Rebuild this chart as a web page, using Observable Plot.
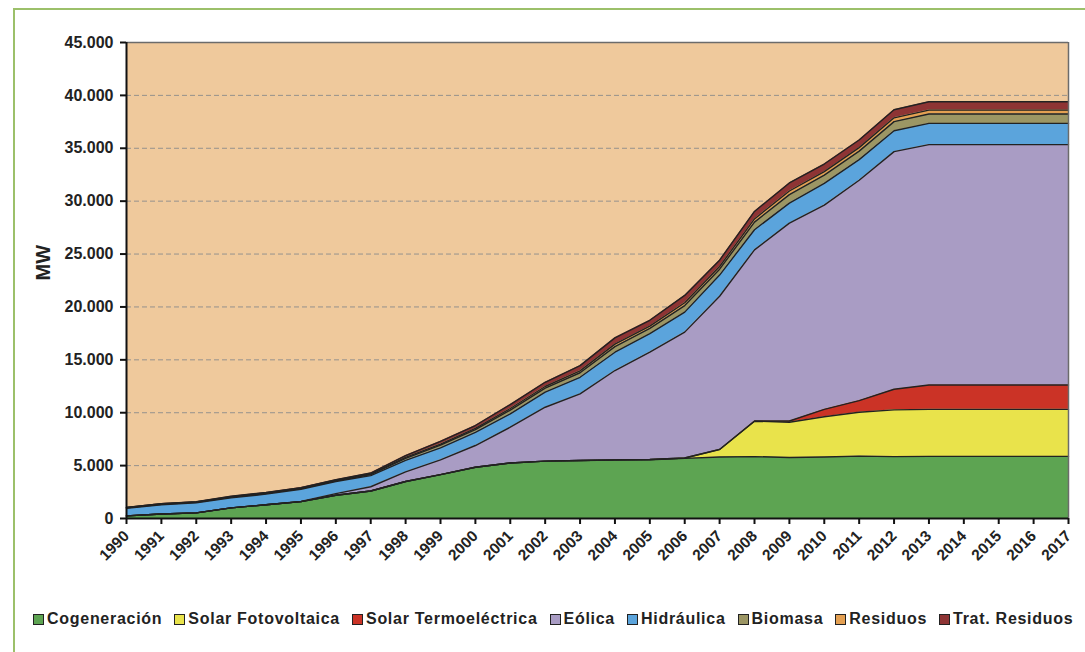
<!DOCTYPE html>
<html>
<head>
<meta charset="utf-8">
<script src="https://cdn.jsdelivr.net/npm/d3@7"></script>
<script src="https://cdn.jsdelivr.net/npm/@observablehq/plot@0.6"></script>
<style>
  html, body { margin: 0; padding: 0; background: #fff; }
  #wrap { position: relative; width: 1085px; height: 652px; overflow: hidden; font-family: "Liberation Sans", Arial, sans-serif; }
  #frameL { position: absolute; left: 13px; top: 8px; width: 2px; height: 660px; background: #9CC06A; }
  #frameT { position: absolute; left: 13px; top: 8px; width: 1100px; height: 2px; background: #9CC06A; }
  #chart { position: absolute; left: 0; top: 0; }
  #legend { position: absolute; left: 33px; top: 610px; display: flex; gap: 12px; font-weight: bold; font-size: 16px; letter-spacing: 0.72px; color: #222; white-space: nowrap; }
  .item { display: flex; align-items: center; gap: 3px; }
  .sw { width: 9px; height: 9px; border: 1px solid #222; display: inline-block; }
</style>
</head>
<body>
<div id="wrap">
  <div id="frameL"></div>
  <div id="frameT"></div>
  <div id="chart"></div>
  <div id="legend"></div>
</div>
<script>
const years = [1990,1991,1992,1993,1994,1995,1996,1997,1998,1999,2000,2001,2002,2003,2004,2005,2006,2007,2008,2009,2010,2011,2012,2013,2014,2015,2016,2017];
const seriesNames = ["Cogeneración","Solar Fotovoltaica","Solar Termoeléctrica","Eólica","Hidráulica","Biomasa","Residuos","Trat. Residuos"];
const seriesColors = ["#5DA452","#E9E34B","#CB3326","#A99CC4","#5BA4DC","#9C9664","#E4A052","#8E3434"];
const yTicks = [0,5000,10000,15000,20000,25000,30000,35000,40000,45000];

const cogeneracion = [250,420,530,1000,1300,1600,2200,2600,3500,4150,4850,5250,5420,5480,5530,5560,5680,5820,5850,5760,5820,5900,5850,5870,5870,5870,5870,5870];
const solarFV      = [0,0,0,0,0,0,0,0,0,0,0,0,0,0,10,20,40,700,3350,3340,3800,4150,4420,4450,4450,4450,4450,4450];
const solarTermo   = [0,0,0,0,0,0,0,0,0,0,0,0,0,0,0,0,0,10,20,120,700,1100,1950,2300,2300,2300,2300,2300];
const eolica       = [0,0,0,0,0,10,150,400,900,1400,2050,3380,5100,6300,8450,10150,11900,14480,16180,18700,19310,20830,22460,22730,22730,22730,22730,22730];
const hidraulica   = [720,870,950,950,1000,1150,1150,1050,1100,1130,1250,1270,1420,1570,1730,1740,1890,2000,1900,1900,2050,1950,1980,2000,2000,2000,2000,2000];
const biomasa      = [40,60,50,70,70,70,70,100,180,250,250,350,380,430,530,500,620,560,720,800,780,800,860,890,890,890,890,890];
const residuos     = [30,40,40,50,50,50,50,60,90,110,120,150,160,180,230,210,270,250,300,340,330,330,360,370,370,370,370,370];
const tratResiduos = [10,20,20,30,40,40,50,90,180,260,270,370,400,490,600,560,690,600,710,760,720,720,760,790,790,790,790,790];

const seriesValues = [cogeneracion, solarFV, solarTermo, eolica, hidraulica, biomasa, residuos, tratResiduos];

const tidy = [];
seriesNames.forEach((name, i) => {
  years.forEach((yr, j) => tidy.push({year: yr, series: name, value: seriesValues[i][j]}));
});

const fmt = d => d3.format(",")(d).replace(/,/g, ".");

const chart = Plot.plot({
  width: 1085,
  height: 600,
  marginLeft: 126,
  marginRight: 17,
  marginTop: 42,
  marginBottom: 82,
  style: {fontFamily: "'Liberation Sans', Arial, sans-serif", fontWeight: "bold", color: "#222", background: "transparent"},
  x: {type: "linear", domain: [1990, 2017]},
  y: {domain: [0, 45000]},
  color: {domain: seriesNames, range: seriesColors},
  marks: [
    Plot.frame({fill: "#EFC99C", stroke: null}),
    Plot.gridY({ticks: yTicks, stroke: "#8c8c8c", strokeOpacity: 0.9, strokeDasharray: "5,3"}),
    Plot.areaY(tidy, {x: "year", y: "value", z: "series", fill: "series", fillOpacity: 1}),
    Plot.lineY(tidy, Plot.stackY2({x: "year", y: "value", z: "series", stroke: "#222", strokeWidth: 1.4})),
    Plot.ruleY([45000], {stroke: "#6b6b6b", strokeWidth: 1.5}),
    Plot.ruleX([2017], {stroke: "#6b6b6b", strokeWidth: 1.5}),
    Plot.axisY({ticks: yTicks, tickFormat: fmt, fontSize: 16, tickSize: 6, tickPadding: 7, label: null, stroke: "#111", strokeWidth: 2}),
    Plot.axisX({ticks: years, tickFormat: d => String(d), tickRotate: -45, fontSize: 15.5, tickSize: 6, tickPadding: 9, label: null, stroke: "#111", strokeWidth: 2}),
    Plot.ruleX([1990], {stroke: "#111", strokeWidth: 2}),
    Plot.ruleY([0], {stroke: "#111", strokeWidth: 2}),
    Plot.text(["MW"], {frameAnchor: "left", dx: -83, rotate: -90, fontSize: 20, fontWeight: "bold", fill: "#222"})
  ]
});
document.getElementById("chart").appendChild(chart);

const legend = document.getElementById("legend");
seriesNames.forEach((name, i) => {
  const item = document.createElement("div");
  item.className = "item";
  const sw = document.createElement("span");
  sw.className = "sw";
  sw.style.background = seriesColors[i];
  const t = document.createElement("span");
  t.textContent = name;
  item.appendChild(sw);
  item.appendChild(t);
  legend.appendChild(item);
});
</script>
</body>
</html>
